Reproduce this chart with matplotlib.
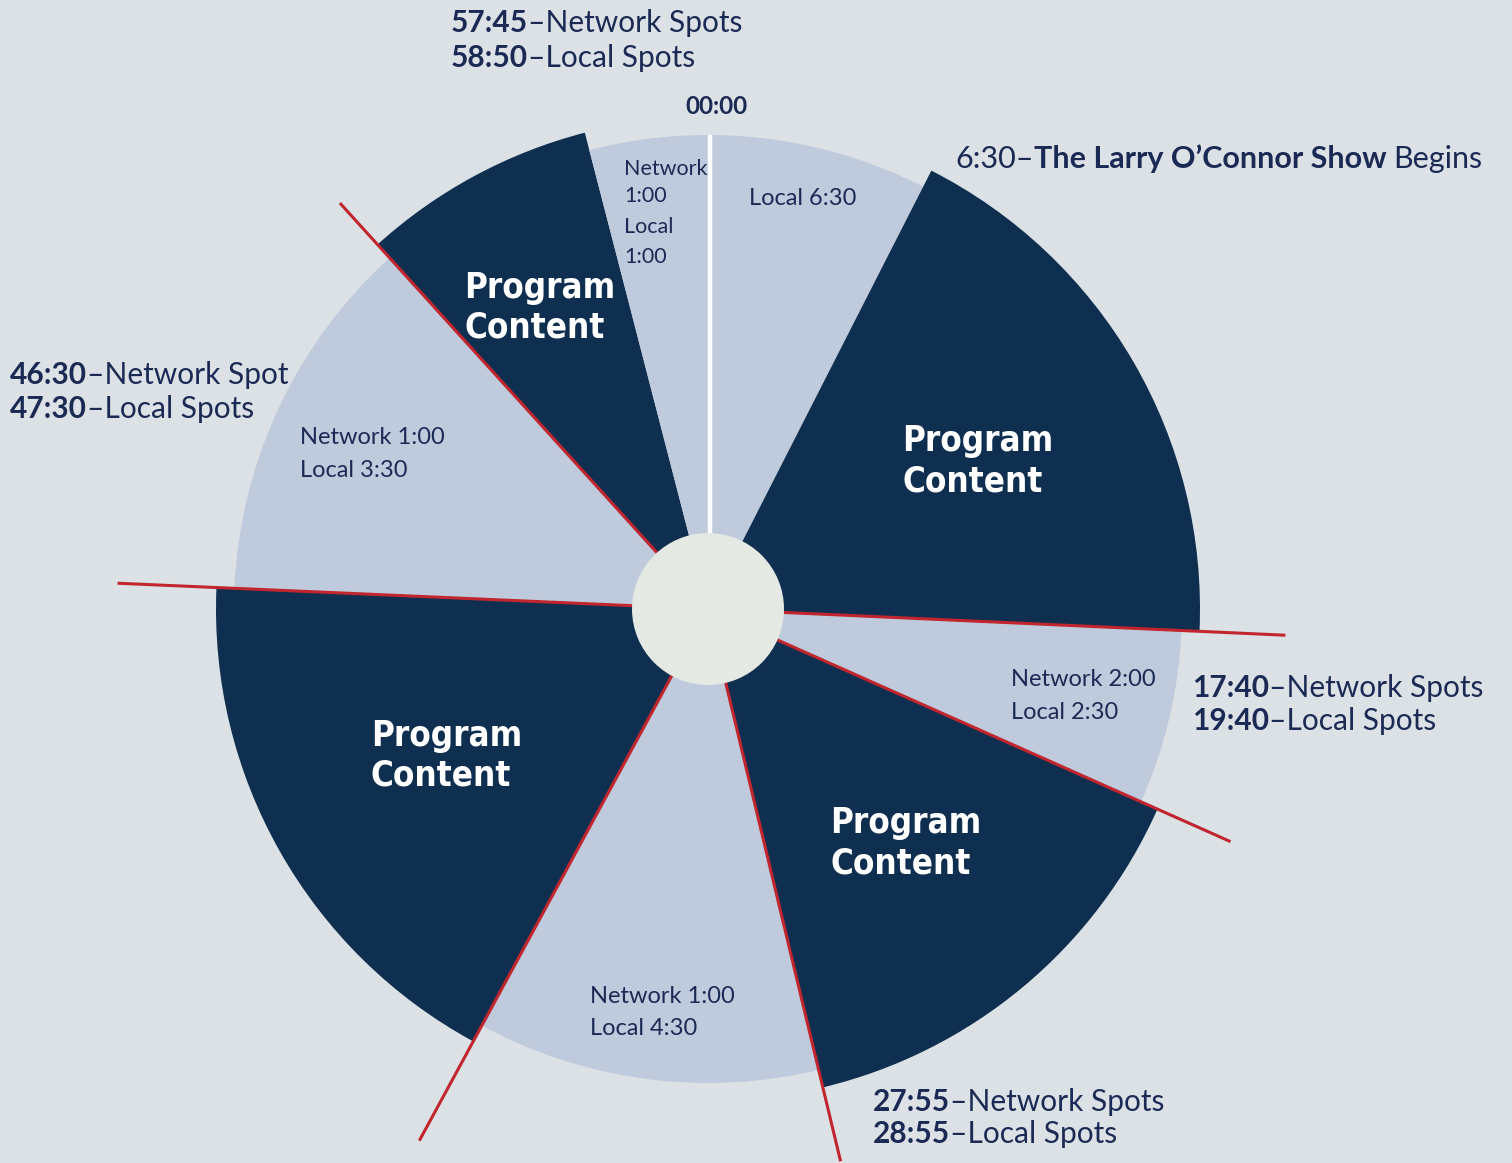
import matplotlib
matplotlib.use('Agg')
import numpy as np
import matplotlib.pyplot as plt
from matplotlib.patches import Wedge, Circle

# clock-face positions of segment edges (degrees clockwise from 12 o'clock, as drawn)
seg_edges = [0, 27, 92.6, 114, 166.5, 208.5, 272.5, 317.8, 345.5, 360]
seg_kind = ['break', 'program', 'break', 'program', 'break',
            'program', 'break', 'program', 'break']
# red marker lines (stop-set boundaries) and how far they reach out
red_edges = [92.6, 114, 166.5, 208.5, 272.5, 317.8]
red_reach = [578, 572, 568, 605, 591, 548]

# break contents inside the pie
break_text = [
    ['Local 6:30'],
    ['Network 2:00', 'Local 2:30'],
    ['Network 1:00', 'Local 4:30'],
    ['Network 1:00', 'Local 3:30'],
    ['Network', '1:00', 'Local', '1:00'],
]
# outside callouts: (bold time, rest)
callouts = [
    [('57:45', '–Network Spots'), ('58:50', '–Local Spots')],
    [('17:40', '–Network Spots'), ('19:40', '–Local Spots')],
    [('27:55', '–Network Spots'), ('28:55', '–Local Spots')],
    [('46:30', '–Network Spot'), ('47:30', '–Local Spots')],
]

BG = '#DCE1E5'
LIGHT = '#BFCADC'
DARK = '#0F2F50'
RED = '#C1252D'
CENTER = '#E4E9E4'
NAVY = '#1B2A55'
FONT = ['Lato', 'DejaVu Sans']

fig = plt.figure(figsize=(15.12, 11.63), dpi=100)
fig.patch.set_facecolor(BG)
ax = fig.add_axes([0, 0, 1, 1])
ax.set_xlim(0, 1512)
ax.set_ylim(1163, 0)
ax.set_aspect('equal')
ax.axis('off')

cx, cy = 708, 609
for a0, a1, kind in zip(seg_edges[:-1], seg_edges[1:], seg_kind):
    r = 492 if kind == 'program' else 474
    col = DARK if kind == 'program' else LIGHT
    ax.add_patch(Wedge((cx, cy), r, a0 - 90, a1 - 90, facecolor=col,
                       edgecolor='none', zorder=1))

for a, L in zip(red_edges, red_reach):
    t = np.radians(a - 90)
    ax.plot([cx, cx + L * np.cos(t)], [cy, cy + L * np.sin(t)], color=RED,
            lw=2.2, solid_capstyle='butt', zorder=2)

# 00:00 marker
t0 = np.radians(seg_edges[0] - 90)
ax.plot([cx + 2, cx + 2 + 474 * np.cos(t0)], [cy, cy + 474 * np.sin(t0)],
        color='white', lw=3.2, solid_capstyle='butt', zorder=2)
ax.add_patch(Circle((cx, cy), 76, facecolor=CENTER, edgecolor='none', zorder=3))


def rich(x, y, parts, size=21.5):
    t = None
    for s, w, gap in parts:
        if t is None:
            t = ax.text(x, y, s, fontsize=size, fontweight=w, color=NAVY,
                        family=FONT, ha='left', va='baseline', zorder=5)
        else:
            t = ax.annotate(s, xy=(1, 0), xycoords=t, xytext=(gap, 0),
                            textcoords='offset points', fontsize=size,
                            fontweight=w, color=NAVY, family=FONT,
                            ha='left', va='bottom', zorder=5)


# callouts outside the clock
call_pos = [(451, 32, 67), (1192, 697, 730), (873, 1111, 1143), (10, 384, 418)]
for (x, y1, y2), lines in zip(call_pos, callouts):
    for y, (b, r) in zip((y1, y2), lines):
        rich(x, y, [(b, 'bold', 0), (r, 'normal', 0)])

rich(955, 168, [('6:30–', 'normal', 0), ('The Larry O’Connor Show', 'bold', 0),
                ('Begins', 'normal', 5)], size=22)
ax.text(716, 114, '00:00', fontsize=17.5, fontweight='bold', color=NAVY,
        family=FONT, ha='center', va='baseline', zorder=5)

# break labels inside the light wedges
break_pos = [(749, [205]), (1011, [686, 719]), (590, [1003, 1035]),
             (300, [444, 477]), (624, [175, 202, 233, 263])]
for (x, ys), lines in zip(break_pos, break_text):
    size = 15.5 if len(lines) > 2 else 17
    for y, s in zip(ys, lines):
        ax.text(x, y, s, fontsize=size, color=NAVY, family=FONT,
                ha='left', va='baseline', zorder=5)

# program content labels
prog_pos = [(464, 298), (902, 451), (371, 746), (830, 833)]
for x, y in prog_pos:
    for dy, s in ((0, 'Program'), (40, 'Content')):
        ax.text(x, y + dy, s, fontsize=25, fontweight='bold',
                fontstretch='condensed', color='white', family=['DejaVu Sans'],
                ha='left', va='baseline', zorder=5)

fig.savefig('out.png', dpi=100, facecolor=BG)
